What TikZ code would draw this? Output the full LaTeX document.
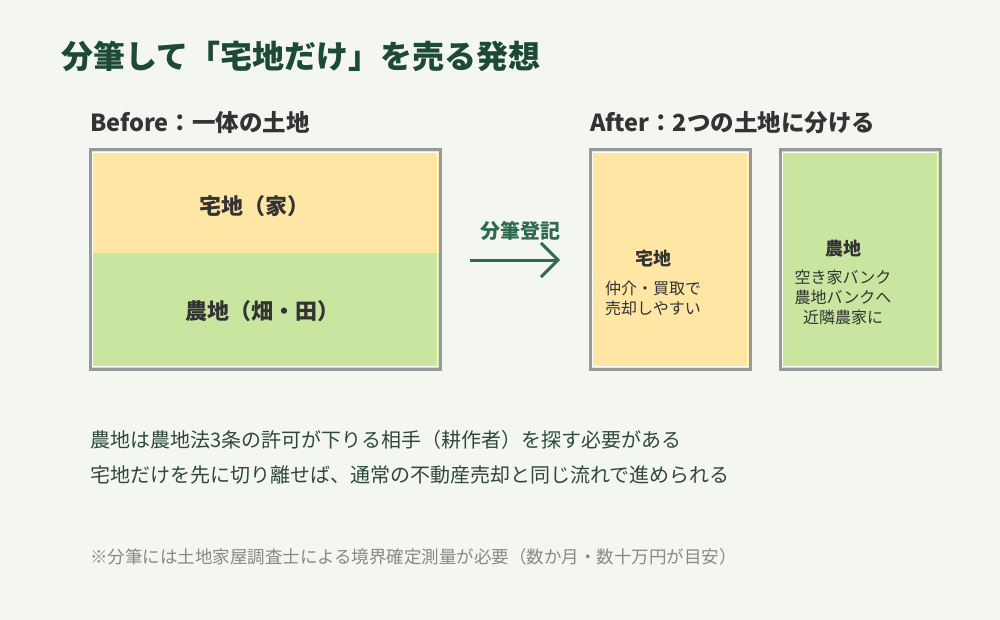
\documentclass[tikz,border=0pt]{standalone}
\usepackage{fontspec}
\setmainfont{Noto Sans CJK JP}
\usetikzlibrary{arrows.meta}
\definecolor{bgc}{HTML}{F4F7F1}
\definecolor{titlec}{HTML}{1D4A33}
\definecolor{arrowc}{HTML}{2E6B4F}
\definecolor{darkt}{HTML}{333333}
\definecolor{notec}{HTML}{2F4A3B}
\definecolor{footc}{HTML}{888888}
\definecolor{yel}{HTML}{FFE6A4}
\definecolor{grn}{HTML}{C9E5A0}
\definecolor{bordc}{HTML}{999999}
\newcommand{\fs}[1]{\fontsize{#1}{#1}\selectfont}
\tikzset{
  txt/.style={inner sep=0pt, outer sep=0pt},
  frame/.style={draw=bordc, line width=3pt},
  inner/.style={draw=white, line width=1.3pt},
}
\begin{document}
\begin{tikzpicture}[x=1pt,y=-1pt]
\fill[bgc] (0,0) rectangle (1000,620);
\useasboundingbox (0,0) rectangle (1000,620);

% title
\node[txt, anchor=west, text=titlec, font=\fs{32}\bfseries] (title) at (61,56) {分筆して「宅地だけ」を売る発想};
\node[txt, anchor=west, text=darkt, font=\fs{23.5}\bfseries] (before) at (90,123) {Before：一体の土地};
\node[txt, anchor=west, text=darkt, font=\fs{23.5}\bfseries] (after) at (590,123) {After：2つの土地に分ける};

% before box
\fill[yel] (90,150) rectangle (440,253);
\fill[grn] (90,253) rectangle (440,369);
\draw[inner] (92.3,152.3) rectangle (437.7,366.7);
\draw[frame] (90,150) rectangle (440,369);
\node[txt, anchor=west, text=darkt, font=\fs{22}\bfseries] (house) at (199,206) {宅地（家）};
\node[txt, anchor=west, text=darkt, font=\fs{22}\bfseries] (farm) at (185,311) {農地（畑・田）};

% arrow
\node[txt, text=arrowc, font=\fs{20}\bfseries] (reg) at (520,231) {分筆登記};
\coordinate (arrS) at (470,260);
\coordinate (arrE) at (560,260);
\draw[arrowc, line width=3pt, -{Straight Barb[length=17pt,width=34pt,line width=3pt]}] (arrS) -- (arrE);

% after box 1
\fill[yel] (590,150) rectangle (750,369);
\draw[inner] (592.3,152.3) rectangle (747.7,366.7);
\draw[frame] (590,150) rectangle (750,369);
\node[txt, text=darkt, font=\fs{18}\bfseries] (a1t) at (653,259) {宅地};
\node[txt, text=darkt, font=\fs{16}, align=left] (a1b) at (653,298) {仲介・買取で\\[4pt]売却しやすい};

% after box 2
\fill[grn] (780,150) rectangle (940,369);
\draw[inner] (782.3,152.3) rectangle (937.7,366.7);
\draw[frame] (780,150) rectangle (940,369);
\node[txt, text=darkt, font=\fs{18}\bfseries] (a2t) at (843,249) {農地};
\node[txt, text=darkt, font=\fs{16}, align=center] (a2b) at (843,297) {空き家バンク\\[4pt]農地バンクへ\\[4pt]近隣農家に};

% notes
\node[txt, anchor=west, text=notec, font=\fs{20}] (n1) at (90,440) {農地は農地法3条の許可が下りる相手（耕作者）を探す必要がある};
\node[txt, anchor=west, text=notec, font=\fs{20}] (n2) at (90,475) {宅地だけを先に切り離せば、通常の不動産売却と同じ流れで進められる};
\node[txt, anchor=west, text=footc, font=\fs{17.5}] (foot) at (90,557) {※分筆には土地家屋調査士による境界確定測量が必要（数か月・数十万円が目安）};
\end{tikzpicture}
\end{document}
